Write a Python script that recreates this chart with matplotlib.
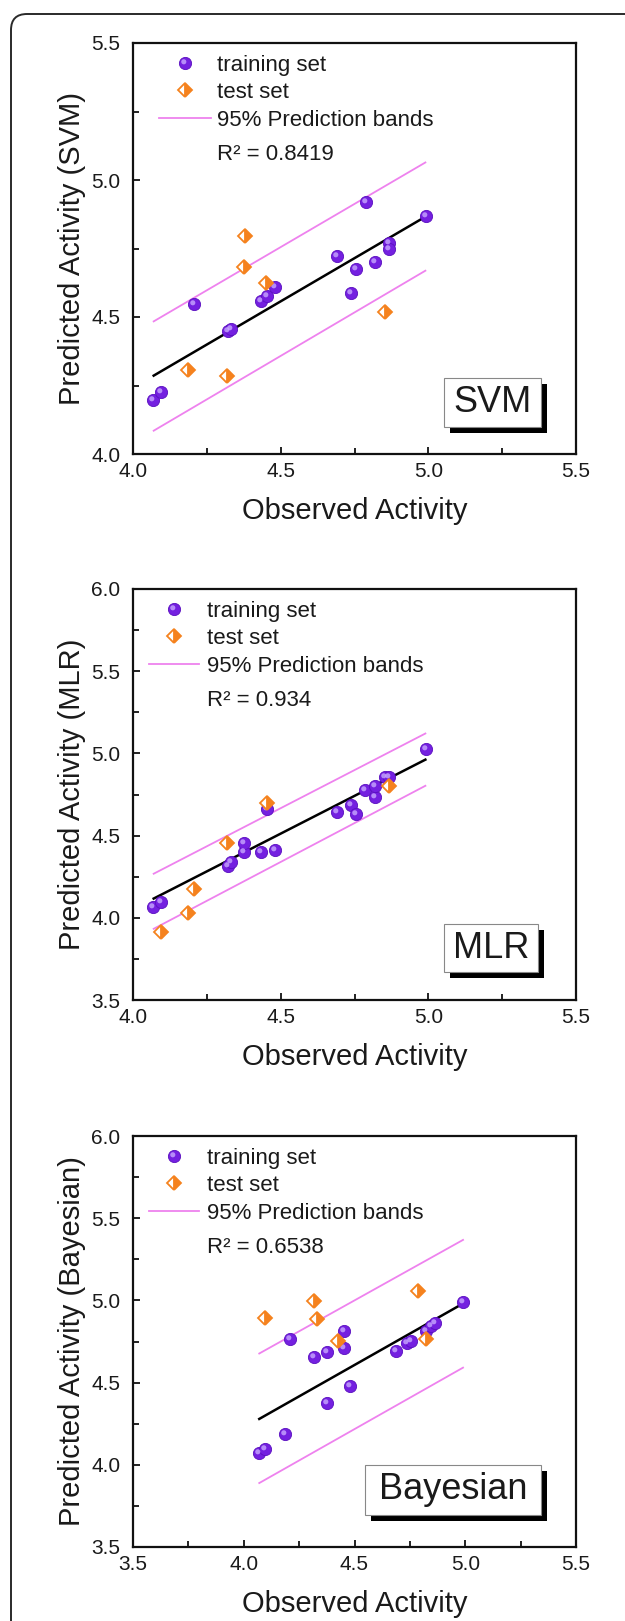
"""
Observed vs predicted activity for the SVM, MLR and Bayesian models.
Three stacked scatter panels with fit line and 95% prediction bands.
"""

import matplotlib
matplotlib.use('Agg')
import matplotlib.pyplot as plt
from matplotlib.lines import Line2D
from matplotlib.patches import Rectangle, FancyBboxPatch
from matplotlib.markers import MarkerStyle
from matplotlib.transforms import Affine2D, IdentityTransform
from matplotlib.ticker import MultipleLocator

plt.rcParams['font.family'] = ['Liberation Sans', 'DejaVu Sans']

# ============= DATA =============
svm_train_x = [4.067, 4.096, 4.208, 4.320, 4.333, 4.434, 4.455, 4.482, 4.691, 4.755, 4.738, 4.789, 4.819, 4.866, 4.866, 4.991]
svm_train_y = [4.198, 4.227, 4.547, 4.448, 4.458, 4.559, 4.578, 4.608, 4.721, 4.677, 4.589, 4.919, 4.699, 4.771, 4.747, 4.867]
svm_test_x = [4.379, 4.376, 4.452, 4.187, 4.317, 4.853]
svm_test_y = [4.797, 4.684, 4.624, 4.307, 4.285, 4.520]
svm_line_x = [4.07, 4.99]
svm_fit_y = [4.286, 4.866]
svm_upper_y = [4.484, 5.064]
svm_lower_y = [4.085, 4.669]

mlr_train_x = [4.069, 4.096, 4.320, 4.333, 4.376, 4.376, 4.434, 4.482, 4.455, 4.691, 4.738, 4.755, 4.785, 4.819, 4.819, 4.853, 4.866, 4.991]
mlr_train_y = [4.065, 4.096, 4.316, 4.337, 4.400, 4.456, 4.400, 4.410, 4.661, 4.644, 4.686, 4.634, 4.780, 4.734, 4.803, 4.854, 4.854, 5.025]
mlr_test_x = [4.096, 4.187, 4.206, 4.318, 4.455, 4.866]
mlr_test_y = [3.912, 4.029, 4.176, 4.456, 4.699, 4.803]
mlr_line_x = [4.07, 4.99]
mlr_fit_y = [4.117, 4.962]
mlr_upper_y = [4.268, 5.121]
mlr_lower_y = [3.933, 4.803]

bay_train_x = [4.070, 4.095, 4.187, 4.209, 4.318, 4.376, 4.376, 4.451, 4.451, 4.480, 4.687, 4.736, 4.757, 4.822, 4.847, 4.865, 4.991]
bay_train_y = [4.070, 4.098, 4.185, 4.766, 4.655, 4.687, 4.374, 4.811, 4.709, 4.479, 4.691, 4.738, 4.755, 4.815, 4.847, 4.862, 4.989]
bay_test_x = [4.095, 4.318, 4.331, 4.426, 4.786, 4.822]
bay_test_y = [4.894, 4.998, 4.889, 4.755, 5.060, 4.768]
bay_line_x = [4.07, 4.99]
bay_fit_y = [4.279, 4.981]
bay_upper_y = [4.677, 5.368]
bay_lower_y = [3.889, 4.591]

# Colors
PURPLE = '#7420E0'
PURPLE_DARK = '#5A0FC0'
HIGHLIGHT = '#C8A8FF'
ORANGE = '#F5821E'
PINK = '#EE82EE'
TEXT = '#1A1A1A'

W, H = 625, 1621
fig = plt.figure(figsize=(W / 100, H / 100), dpi=100)
fig.patch.set_facecolor('white')

# outer rounded frame (only top/left visible in the crop)
frame = FancyBboxPatch((11, -60), 700, H - 14 + 60,
                       boxstyle='round,pad=0,rounding_size=16',
                       transform=IdentityTransform(), facecolor='none',
                       edgecolor='#2A2A2A', linewidth=1.4)
fig.patches.append(frame)

highlight_marker = MarkerStyle('o', transform=Affine2D().scale(0.42).translate(-0.14, 0.14))

panels = [
    dict(tx=svm_train_x, ty=svm_train_y, sx=svm_test_x, sy=svm_test_y,
         lx=svm_line_x, fit=svm_fit_y, up=svm_upper_y, lo=svm_lower_y,
         bottom=454, xlim=(4.0, 5.5), ylim=(4.0, 5.5),
         ylabel='Predicted Activity (SVM)', r2='R² = 0.8419', name='SVM',
         box=(0.701, 0.066, 0.921, 0.184), leg_x=0.059, hlen=2.34, tpad=0.27),
    dict(tx=mlr_train_x, ty=mlr_train_y, sx=mlr_test_x, sy=mlr_test_y,
         lx=mlr_line_x, fit=mlr_fit_y, up=mlr_upper_y, lo=mlr_lower_y,
         bottom=1000, xlim=(4.0, 5.5), ylim=(3.5, 6.0),
         ylabel='Predicted Activity (MLR)', r2='R² = 0.934', name='MLR',
         box=(0.701, 0.068, 0.914, 0.185), leg_x=0.037, hlen=2.23, tpad=0.36),
    dict(tx=bay_train_x, ty=bay_train_y, sx=bay_test_x, sy=bay_test_y,
         lx=bay_line_x, fit=bay_fit_y, up=bay_upper_y, lo=bay_lower_y,
         bottom=1547, xlim=(3.5, 5.5), ylim=(3.5, 6.0),
         ylabel='Predicted Activity (Bayesian)', r2='R² = 0.6538', name='Bayesian',
         box=(0.523, 0.079, 0.921, 0.199), leg_x=0.037, hlen=2.23, tpad=0.36),
]

for p in panels:
    ax = fig.add_axes([133 / W, 1 - p['bottom'] / H, 443 / W, 411 / H])
    ax.set_xlim(*p['xlim'])
    ax.set_ylim(*p['ylim'])

    # prediction bands and fit line
    ax.plot(p['lx'], p['up'], color=PINK, linewidth=1.3, zorder=2)
    ax.plot(p['lx'], p['lo'], color=PINK, linewidth=1.3, zorder=2)
    ax.plot(p['lx'], p['fit'], color='black', linewidth=1.8, zorder=3)

    # training set: shaded spheres
    ball, = ax.plot(p['tx'], p['ty'], linestyle='none', marker='o', markersize=8.8,
                    markerfacecolor=PURPLE, markeredgecolor=PURPLE_DARK,
                    markeredgewidth=0.6, zorder=4)
    shine, = ax.plot(p['tx'], p['ty'], linestyle='none', marker=highlight_marker,
                     markersize=8.8, markerfacecolor=HIGHLIGHT, markeredgewidth=0,
                     alpha=0.8, zorder=5)

    # test set: half-filled diamonds
    dia, = ax.plot(p['sx'], p['sy'], linestyle='none', marker='D', markersize=6.8,
                   fillstyle='right', markerfacecolor=ORANGE, markerfacecoloralt='white',
                   markeredgecolor=ORANGE, markeredgewidth=1.3, zorder=6)

    band = Line2D([], [], color=PINK, linewidth=1.3)
    ax.legend([(ball, shine), dia, band],
              ['training set', 'test set', '95% Prediction bands'],
              loc='upper left', bbox_to_anchor=(p['leg_x'], 0.972),
              borderaxespad=0, borderpad=0, frameon=False, fontsize=16,
              handlelength=p['hlen'], handletextpad=p['tpad'], labelspacing=0.3,
              labelcolor=TEXT)
    ax.text(p['leg_x'] + (p['hlen'] + p['tpad']) * 22.2 / 443, 0.7275, p['r2'],
            transform=ax.transAxes, fontsize=16, color=TEXT, va='center', ha='left')

    # model name box with drop shadow
    x0, y0, x1, y1 = p['box']
    ax.add_patch(Rectangle((x0 + 6 / 443, y0 - 6 / 411), x1 - x0, y1 - y0,
                           transform=ax.transAxes, facecolor='black',
                           edgecolor='none', zorder=7))
    ax.add_patch(Rectangle((x0, y0), x1 - x0, y1 - y0, transform=ax.transAxes,
                           facecolor='white', edgecolor='#888888',
                           linewidth=0.8, zorder=8))
    ax.text((x0 + x1) / 2, (y0 + y1) / 2, p['name'], transform=ax.transAxes,
            fontsize=26, color=TEXT, ha='center', va='center', zorder=9)

    # axes styling
    for s in ax.spines.values():
        s.set_linewidth(1.6)
        s.set_color('#111111')
    ax.xaxis.set_major_locator(MultipleLocator(0.5))
    ax.xaxis.set_minor_locator(MultipleLocator(0.25))
    ax.yaxis.set_major_locator(MultipleLocator(0.5))
    ax.yaxis.set_minor_locator(MultipleLocator(0.25))
    ax.tick_params(which='both', direction='in', top=False, right=False,
                   width=1.3, colors='#111111')
    ax.tick_params(which='major', length=5)
    ax.tick_params(which='minor', length=4)
    ax.tick_params(axis='x', which='major', labelsize=15, pad=6, labelcolor=TEXT)
    ax.tick_params(axis='y', which='major', labelsize=15, pad=9, labelcolor=TEXT)
    ax.xaxis.set_major_formatter(plt.FormatStrFormatter('%.1f'))
    ax.yaxis.set_major_formatter(plt.FormatStrFormatter('%.1f'))

    ax.set_xlabel('Observed Activity', fontsize=21, color=TEXT, labelpad=11)
    ax.set_ylabel(p['ylabel'], fontsize=21, color=TEXT, labelpad=4)

plt.savefig('out.png', dpi=100, facecolor='white')
